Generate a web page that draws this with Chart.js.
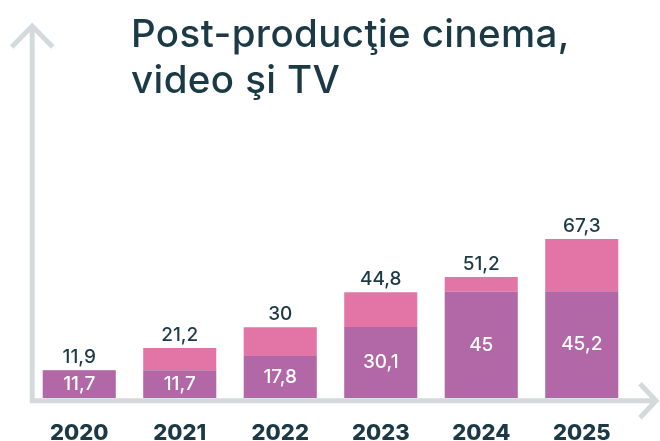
<!DOCTYPE html>
<html>
<head>
<meta charset="utf-8">
<script src="https://cdn.jsdelivr.net/npm/chart.js@4/dist/chart.umd.min.js"></script>
<style>
  body { margin: 0; background: #fff; }
  #wrap { position: relative; width: 660px; height: 441px; overflow: hidden; }
  #title { position: absolute; left: 131px; top: 10px; font: 500 38.5px/46px Inter, sans-serif; color: #1c3a46; letter-spacing: 0.4px; }
</style>
</head>
<body>
<div id="wrap">
  <canvas id="chart" width="660" height="441"></canvas>
  <div id="title">Post-producţie cinema,<br>video şi TV</div>
</div>
<script>
var years = ["2020", "2021", "2022", "2023", "2024", "2025"];
var base = [11.7, 11.7, 17.8, 30.1, 45, 45.2];
var totals = [11.9, 21.2, 30, 44.8, 51.2, 67.3];
var extra = totals.map(function (t, i) { return +(t - base[i]).toFixed(1); });

var dark = "#1c3a46";
var axisColor = "#d4dadc";

function fmt(v) { return String(v).replace(".", ","); }

// axis lines with arrows
var arrows = {
  id: "arrows",
  afterDatasetsDraw: function (chart) {
    var ctx = chart.ctx, a = chart.chartArea;
    var x = a.left + 3.2, y = a.bottom + 2.8;
    ctx.save();
    ctx.strokeStyle = axisColor;
    ctx.lineWidth = 5;
    ctx.lineJoin = "miter";
    ctx.beginPath();
    ctx.moveTo(x, y + 2.5);
    ctx.lineTo(x, 26);
    ctx.moveTo(x - 20.5, 47);
    ctx.lineTo(x, 26);
    ctx.lineTo(x + 20.5, 47);
    ctx.moveTo(x - 2.5, y);
    ctx.lineTo(656, y);
    ctx.moveTo(640, y - 17);
    ctx.lineTo(656, y);
    ctx.lineTo(640, y + 17);
    ctx.stroke();
    ctx.restore();
  }
};

// value labels
var labels = {
  id: "labels",
  afterDatasetsDraw: function (chart) {
    var ctx = chart.ctx;
    var low = chart.getDatasetMeta(0).data;
    var high = chart.getDatasetMeta(1).data;
    ctx.save();
    ctx.textAlign = "center";
    ctx.font = "500 19px Inter, sans-serif";
    low.forEach(function (bar, i) {
      ctx.fillStyle = "#ffffff";
      ctx.textBaseline = "middle";
      ctx.fillText(fmt(base[i]), bar.x, (bar.y + bar.base) / 2);
      ctx.fillStyle = dark;
      ctx.textBaseline = "alphabetic";
      ctx.fillText(fmt(totals[i]), bar.x, high[i].y - 7);
    });
    ctx.restore();
  }
};

new Chart("chart", {
  type: "bar",
  data: {
    labels: years,
    datasets: [{
      data: base,
      backgroundColor: "#b267a7",
      borderWidth: 0
    }, {
      data: extra,
      backgroundColor: "#e374a6",
      borderWidth: 0
    }]
  },
  options: {
    responsive: false,
    animation: false,
    events: [],
    layout: {
      padding: { left: 29, right: 28, top: 209, bottom: -27 }
    },
    datasets: {
      bar: { categoryPercentage: 1, barPercentage: 0.727 }
    },
    plugins: {
      legend: { display: false },
      tooltip: { enabled: false }
    },
    scales: {
      x: {
        stacked: true,
        grid: { display: false, drawTicks: false },
        border: { display: false },
        ticks: {
          color: dark,
          padding: 26.75,
          font: { family: "Inter", size: 22, weight: 800, lineHeight: 0.75 }
        }
      },
      y: {
        stacked: true,
        display: false,
        min: 0,
        max: 80
      }
    }
  },
  plugins: [arrows, labels]
});
</script>
</body>
</html>
